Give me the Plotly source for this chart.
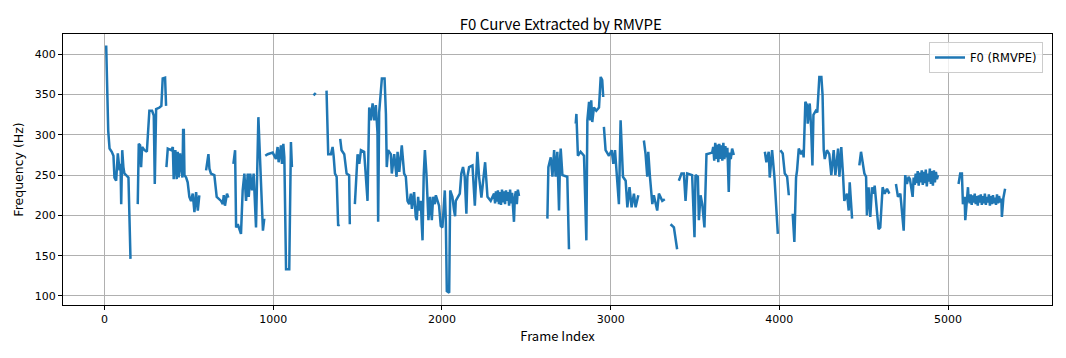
import plotly.graph_objects as go

# ---- data (frame index, F0 in Hz); None marks unvoiced gaps ----
phrase1_frames = [10, 16, 22, 30, 43, 53, 59, 69, 79, 89, 95, 99, 105, 112, 118, 128, 142, 154, None,
                  197, 203, 211, 217, 223, 237, 251, 259, 266, 282, 292, 298, 306, 326, 337, 345, 359, 365, None,
                  367, 375, 395, 405, 410, 420, 428, 434, 440, 448, 456, 462, 466, 470, 474, 484, 493, 503, 513, 523, 533, 543, 553, 562, None,
                  602, 616, 622, 631, 651, 665, 691, 701, 707, 714, 726, 734, None,
                  764, 774, 780, 790, 809, 819, 829, 839, 849, 855, 864, 874, 884, 898, 912, 928, 939, 947, None,
                  953, 967, 997, 1016, 1026, 1032, 1046, 1052, 1060, 1066, 1076, 1095, 1105, 1111, None,
                  1239, 1252]
phrase1_f0 = [411, 368, 305, 283, 279, 274, 247, 243, 277, 256, 264, 214, 281, 260, 252, 250, 247, 146, None,
              214, 289, 287, 260, 285, 281, 279, 306, 330, 330, 324, 239, 332, 334, 336, 370, 371, 336, None,
              260, 283, 281, 285, 245, 281, 245, 279, 247, 277, 256, 247, 306, 306, 250, 247, 241, 223, 218, 227, 204, 229, 206, 225, None,
              256, 276, 258, 252, 250, 223, 218, 214, 225, 212, 227, 222, None,
              264, 281, 185, 189, 177, 231, 252, 218, 252, 223, 252, 231, 252, 185, 322, 223, 181, 196, None,
              274, 276, 278, 270, 285, 266, 287, 264, 289, 272, 133, 133, 291, 260, None,
              349, 352]

phrase2_frames = [1316, 1326, 1342, 1352, 1358, 1366, 1376, 1385, 1391, None,
                  1397, 1405, 1421, 1435, 1450, 1454, None,
                  1484, 1500, 1510, 1520, 1539, 1559, 1569, 1579, 1589, 1599, 1608, 1618, 1622, 1628, 1644, 1660, 1668,
                  1673, 1681, 1697, 1703, 1717, 1731, 1737, 1747, 1762, 1776, 1786, 1796, 1806, 1816, 1822, 1835, 1845,
                  1851, 1859, 1865, 1875, 1880, 1885, 1892, 1899, 1908, 1920, 1930, 1940, 1948, 1958, 1964, 1983, 1993,
                  2003, 2017, 2023, 2029, 2043, 2049, 2062, 2072, 2078, 2082, 2096, 2106, 2115, 2125, 2135, 2145, 2151,
                  2161, 2181, 2195, 2210, 2220, 2234, 2256, 2270, 2289, 2309, 2315, 2320, 2326, 2332, 2338, 2344, 2350,
                  2356, 2362, 2368, 2374, 2380, 2386, 2392, 2398, 2404, 2410, 2416, 2422, 2427, 2432, 2438, 2444, 2450, 2457]
phrase2_f0 = [355, 276, 276, 285, 274, 252, 248, 187, 189, None,
              295, 281, 276, 252, 250, 189, None,
              214, 276, 264, 281, 279, 218, 334, 318, 339, 318, 337, 303, 192, 328, 370, 370, 326,
              260, 281, 276, 252, 276, 248, 279, 254, 287, 252, 248, 218, 214, 227, 208, 229, 198,
              194, 223, 206, 218, 190, 169, 250, 281, 252, 194, 223, 194, 223, 214, 225, 212, 187,
              185, 231, 194, 106, 104, 231, 223, 206, 199, 218, 223, 227, 252, 260, 248, 202, 248,
              260, 262, 212, 279, 248, 222, 266, 223, 218, 227, 215, 230, 217, 231, 214, 229, 213,
              232, 216, 230, 214, 231, 218, 229, 212, 232, 215, 228, 210, 192, 222, 230, 214, 232, 224]

phrase3_frames = [2625, 2631, 2645, 2655, 2665, 2674, 2684, 2694, 2700, 2704, 2714, 2743, 2753, None,
                  2793, 2797, 2806, 2822, 2842, 2856, 2862, 2872, 2878, 2885, 2891, 2901, 2915, 2931, 2941, 2950, 2956, None,
                  2960, 2970, 2990, 3006, 3016, 3026, 3039, 3049, 3059, 3073, 3089, 3099, 3112, 3124, 3138, 3148, 3164, None,
                  3197, 3207, 3217, 3223, 3233, 3247, 3256, 3276, 3286, 3306, 3321, None,
                  3355, 3375, 3394, None,
                  3404, 3420, 3434, 3444, 3454, 3483, 3497, 3503, 3517, 3523, 3533, 3543, 3556, 3568, 3602, 3608,
                  3614, 3620, 3626, 3632, 3638, 3644, 3650, 3656, 3662, 3668, 3674, 3680, 3686, 3692, 3700, 3706,
                  3712, 3720, 3730]
phrase3_f0 = [196, 260, 272, 248, 281, 248, 279, 206, 270, 283, 250, 248, 158, None,
              314, 326, 274, 279, 274, 169, 318, 341, 318, 343, 316, 334, 330, 334, 372, 368, 347, None,
              310, 281, 274, 281, 264, 281, 243, 214, 318, 248, 243, 210, 235, 210, 227, 210, 225, None,
              293, 276, 248, 279, 248, 214, 225, 206, 227, 218, 220, None,
              189, 185, 158, None,
              243, 252, 252, 218, 252, 250, 173, 250, 248, 194, 225, 214, 185, 276, 278, 285,
              268, 290, 270, 288, 266, 289, 270, 287, 268, 290, 270, 286, 272, 284, 229, 278,
              270, 283, 275]

phrase4_frames = [3914, 3923, 3937, 3943, 3957, 3971, 3991, None,
                  4006, 4020, 4032, 4046, 4056, None,
                  4079, 4089, 4099, 4105, 4115, 4129, 4139, 4144, 4154, 4164, 4168, 4180, 4188, 4196, 4202, 4216,
                  4225, 4232, 4237, 4249, 4256, 4263, 4269, 4282, 4296, 4308, 4322, 4332, 4348, 4356, 4367, 4377,
                  4385, 4401, 4411, 4417, 4425, 4431, None,
                  4474, 4484, 4504, 4514, 4519, 4529, 4539, 4549, 4559, 4565, 4578, 4588, 4598, 4612, 4624, 4638, 4652, None,
                  4691, 4703, 4717, 4737, 4746, 4756, 4766, 4774, 4790, 4796, 4802, 4808, 4814, 4820, 4826, 4832,
                  4838, 4844, 4850, 4856, 4862, 4868, 4874, 4880, 4886, 4892, 4898, 4904, 4910, 4916, 4922, 4928,
                  4934, 4940]
phrase4_f0 = [279, 266, 279, 247, 281, 247, 177, None,
              281, 277, 252, 248, 225, None,
              202, 167, 247, 256, 283, 276, 281, 272, 341, 337, 314, 339, 310, 262, 325, 330,
              328, 368, 372, 372, 350, 281, 270, 281, 276, 250, 281, 250, 283, 248, 285, 252,
              218, 227, 206, 241, 210, 196, None,
              262, 279, 252, 248, 200, 235, 198, 235, 227, 237, 206, 183, 185, 235, 227, 233, 227, None,
              239, 223, 227, 181, 250, 239, 248, 245, 223, 247, 238, 252, 240, 255, 237, 253,
              241, 256, 238, 254, 240, 257, 236, 252, 242, 258, 239, 255, 237, 256, 241, 254,
              245, 250]

phrase5_frames = [5062, 5072, 5082, 5088, 5098, 5102, 5118, 5121, 5128, 5134, 5140, 5146, 5152, 5158,
                  5164, 5170, 5176, 5182, 5188, 5194, 5200, 5206, 5212, 5218, 5224, 5230, 5236, 5242,
                  5248, 5254, 5260, 5266, 5272, 5278, 5284, 5290, 5296, 5302, 5310, 5316, 5319, 5328, 5338]
phrase5_f0 = [239, 252, 252, 214, 223, 194, 235, 223, 215, 226, 213, 225, 216, 227,
              214, 224, 212, 225, 216, 226, 213, 224, 215, 227, 213, 223, 216, 226,
              212, 224, 214, 225, 215, 222, 213, 226, 215, 224, 216, 221, 198, 222, 233]

x_ticks = [0, 1000, 2000, 3000, 4000, 5000]
y_ticks = [100, 150, 200, 250, 300, 350, 400]

frames = (phrase1_frames + [None] + phrase2_frames + [None] + phrase3_frames + [None]
          + phrase4_frames + [None] + phrase5_frames)
f0 = (phrase1_f0 + [None] + phrase2_f0 + [None] + phrase3_f0 + [None]
      + phrase4_f0 + [None] + phrase5_f0)

fig = go.Figure()
fig.add_trace(go.Scatter(
    x=frames, y=f0, mode="lines", name="F0 (RMVPE)",
    line=dict(color="#1f77b4", width=2.5), connectgaps=False,
))

axis_common = dict(
    showline=True, linecolor="black", linewidth=1, mirror=True,
    ticks="outside", ticklen=4, tickcolor="black", tickwidth=1,
    showgrid=True, gridcolor="#b0b0b0", gridwidth=0.8, zeroline=False,
    automargin=False,
    tickfont=dict(family="DejaVu Sans", size=11, color="black"),
)

# the page body adds an 8px offset, so the figure is 8px smaller and margins shifted
fig.update_layout(
    width=1058, height=350,
    margin=dict(l=55, r=14, t=26, b=53),
    paper_bgcolor="white", plot_bgcolor="white",
    title=dict(text="F0 Curve Extracted by RMVPE", x=0.5225, xanchor="center",
               y=0.951, yanchor="middle",
               font=dict(family="Noto Sans CJK KR", size=15, color="black")),
    xaxis=dict(range=[-246, 5616], tickvals=x_ticks,
               title=dict(text="Frame Index", standoff=6,
                          font=dict(family="Noto Sans CJK KR", size=13, color="black")),
               **axis_common),
    yaxis=dict(range=[88.7, 425.3], tickvals=y_ticks,
               title=dict(text="Frequency (Hz)", standoff=8,
                          font=dict(family="DejaVu Sans", size=12.5, color="black")),
               **axis_common),
    showlegend=True,
    legend=dict(x=1 - 9 / 989, y=1 - 8 / 271, xanchor="right", yanchor="top",
                itemwidth=30, tracegroupgap=0,
                bgcolor="rgba(255,255,255,0.8)", bordercolor="#cccccc", borderwidth=1,
                font=dict(family="DejaVu Sans", size=11.5, color="black")),
)

fig.write_html("out.html")
